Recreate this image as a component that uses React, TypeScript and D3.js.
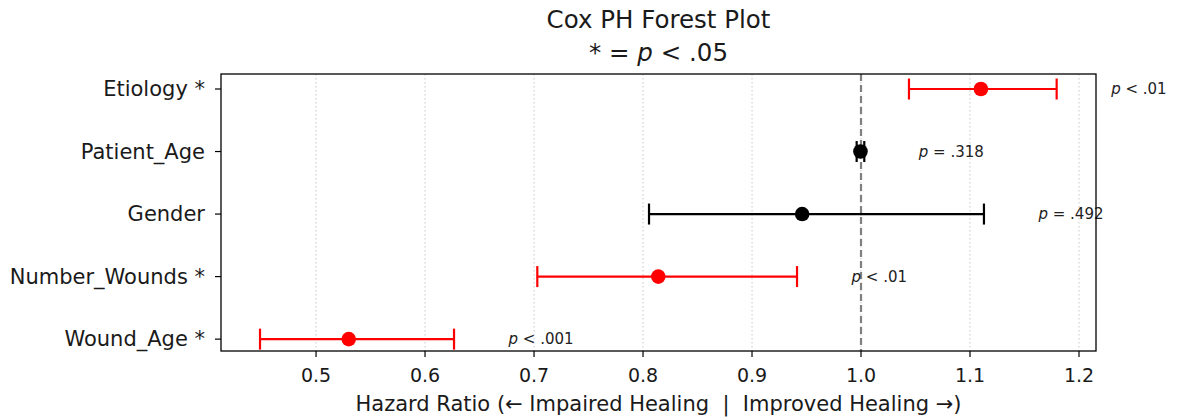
import React from 'react';
import * as d3 from 'd3';

const variables = ['Etiology *', 'Patient_Age', 'Gender', 'Number_Wounds *', 'Wound_Age *'];
const hazardRatios = [1.110, 0.9995, 0.946, 0.814, 0.530];
const ciLower = [1.044, 0.996, 0.8055, 0.703, 0.4486];
const ciUpper = [1.1795, 1.003, 1.1128, 0.9413, 0.6266];
const pLabels = ['< .01', '= .318', '= .492', '< .01', '< .001'];
const significant = [true, false, false, true, true];
const xTicks = [0.5, 0.6, 0.7, 0.8, 0.9, 1.0, 1.1, 1.2];

const W = 1177;
const H = 419;
const FONT = "'DejaVu Sans', sans-serif";

const App: React.FC = () => {
  const margin = { top: 74, right: 81, bottom: 68, left: 221 };
  const plotW = W - margin.left - margin.right;
  const plotH = H - margin.top - margin.bottom;

  const x = d3.scaleLinear().domain([0.4128, 1.2156]).range([0, plotW]);
  // row 0 at the bottom (Wound_Age), row 4 at the top (Etiology)
  const y = d3.scaleLinear().domain([-0.19, 4.24]).range([plotH, 0]);
  const n = variables.length;
  const rowY = (i: number) => y(n - 1 - i);
  const cap = 10.5;

  return (
    <div style={{ position: 'absolute', left: 0, top: 0 }}>
      <svg width={W} height={H} style={{ display: 'block', background: '#fff', fontFamily: FONT }}>
        {/* title */}
        <text x={margin.left + plotW / 2} y={28} textAnchor="middle" fontSize={24.5} fill="#1a1a1a">
          Cox PH Forest Plot
        </text>
        <text x={margin.left + plotW / 2} y={61} textAnchor="middle" fontSize={24.5} fill="#1a1a1a">
          * = <tspan fontStyle="italic">p</tspan> &lt; .05
        </text>

        <g transform={`translate(${margin.left},${margin.top})`}>
          {/* grid */}
          {xTicks.map(t => (
            <line key={'g' + t} x1={x(t)} x2={x(t)} y1={0} y2={plotH}
              stroke="#c8c8c8" strokeWidth={1} strokeDasharray="1.5,2.5" />
          ))}
          {/* reference line */}
          <line x1={x(1)} x2={x(1)} y1={0} y2={plotH} stroke="#808080" strokeWidth={2.2} strokeDasharray="7,4" />

          {/* error bars */}
          {variables.map((v, i) => {
            const c = significant[i] ? '#ff0000' : '#000000';
            const cy = rowY(i);
            return (
              <g key={v}>
                <line x1={x(ciLower[i])} x2={x(ciUpper[i])} y1={cy} y2={cy} stroke={c} strokeWidth={2.2} />
                <line x1={x(ciLower[i])} x2={x(ciLower[i])} y1={cy - cap} y2={cy + cap} stroke={c} strokeWidth={2.2} />
                <line x1={x(ciUpper[i])} x2={x(ciUpper[i])} y1={cy - cap} y2={cy + cap} stroke={c} strokeWidth={2.2} />
                <circle cx={x(hazardRatios[i])} cy={cy} r={7.3} fill={c} />
                <text x={x(ciUpper[i] + 0.05)} y={cy} dy="0.35em" fontSize={15} fill="#222">
                  <tspan fontStyle="italic">p</tspan> {pLabels[i]}
                </text>
              </g>
            );
          })}

          {/* frame */}
          <rect x={0} y={0} width={plotW} height={plotH} fill="none" stroke="#000" strokeWidth={1.3} />

          {/* x axis */}
          {xTicks.map(t => (
            <g key={'x' + t} transform={`translate(${x(t)},${plotH})`}>
              <line y1={0} y2={6} stroke="#000" strokeWidth={1.2} />
              <text y={31} textAnchor="middle" fontSize={19} fill="#1a1a1a">{t.toFixed(1)}</text>
            </g>
          ))}
          <text x={plotW / 2} y={plotH + 60} textAnchor="middle" fontSize={21} fill="#1a1a1a"
            style={{ whiteSpace: 'pre' }}>
            {'Hazard Ratio (← Impaired Healing  |  Improved Healing →)'}
          </text>

          {/* y axis */}
          {variables.map((v, i) => (
            <g key={'y' + v} transform={`translate(0,${rowY(i)})`}>
              <line x1={-6} x2={0} stroke="#000" strokeWidth={1.2} />
              <text x={-16} dy="0.35em" textAnchor="end" fontSize={21} fill="#1a1a1a">{v}</text>
            </g>
          ))}
        </g>
      </svg>
    </div>
  );
};

export default App;
